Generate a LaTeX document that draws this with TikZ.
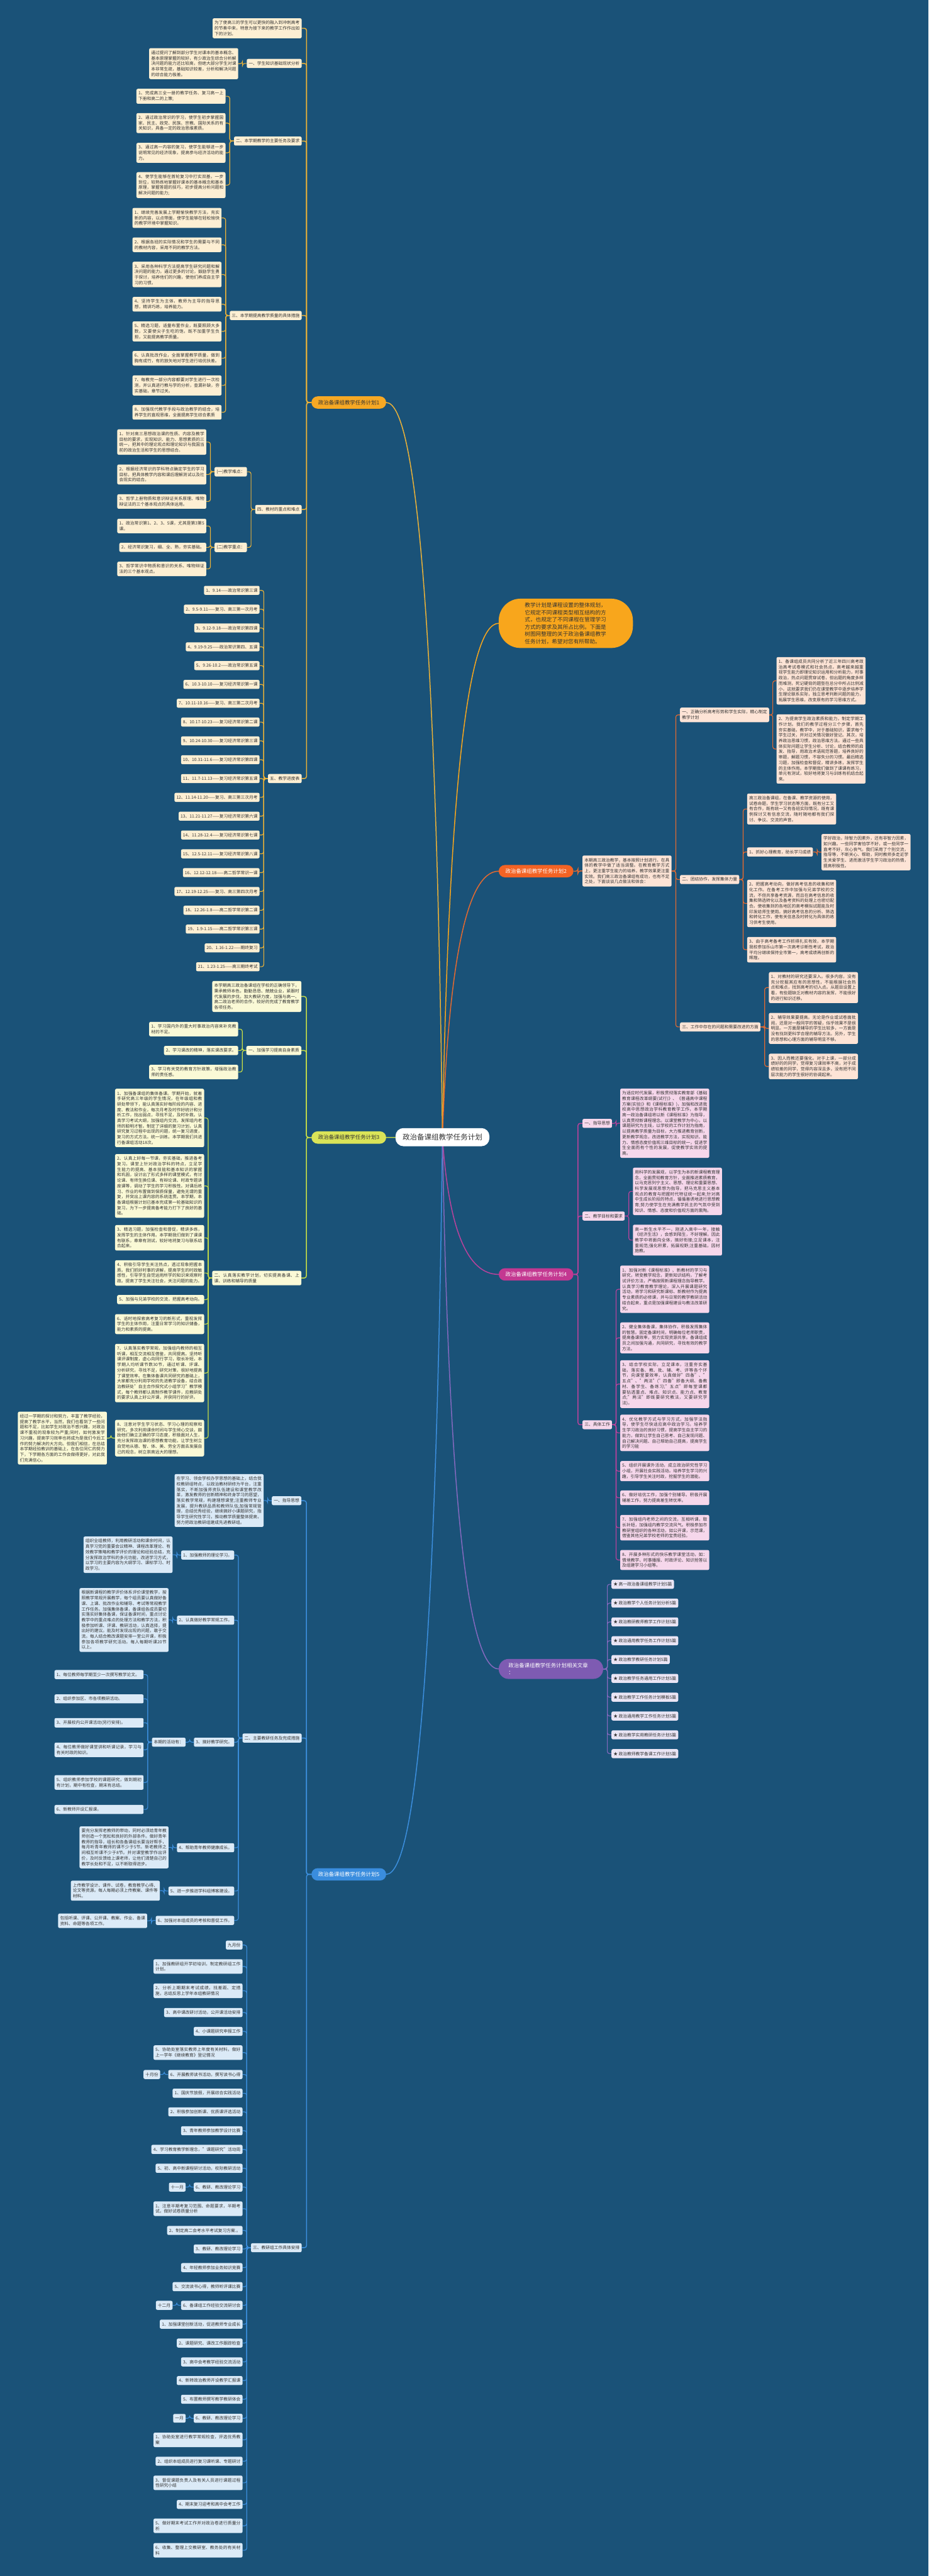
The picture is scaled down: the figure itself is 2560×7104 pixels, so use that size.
\documentclass[tikz,border=0pt]{standalone}
\usepackage{fontspec}
\setmainfont{Noto Sans CJK SC}
\usetikzlibrary{calc}
\XeTeXlinebreaklocale "zh"
\XeTeXlinebreakskip=0pt plus 1pt
\definecolor{bgc}{RGB}{26,82,120}
\definecolor{txt}{RGB}{51,51,51}
\definecolor{k1n}{RGB}{246,168,36}\definecolor{k1l}{RGB}{235,178,56}\definecolor{k1c}{RGB}{253,239,211}
\definecolor{k3n}{RGB}{218,228,88}\definecolor{k3l}{RGB}{200,222,70}\definecolor{k3c}{RGB}{250,249,214}
\definecolor{k5n}{RGB}{58,141,222}\definecolor{k5l}{RGB}{60,143,222}\definecolor{k5c}{RGB}{219,234,247}
\definecolor{k2n}{RGB}{243,99,36}\definecolor{k2l}{RGB}{229,106,48}\definecolor{k2c}{RGB}{253,228,214}
\definecolor{k4n}{RGB}{195,56,145}\definecolor{k4l}{RGB}{186,66,156}\definecolor{k4c}{RGB}{246,215,235}
\definecolor{k6n}{RGB}{126,91,178}\definecolor{k6l}{RGB}{132,105,190}\definecolor{k6c}{RGB}{234,229,245}
\definecolor{ksum}{RGB}{248,166,28}
\definecolor{shd}{RGB}{18,60,92}
\newcommand\myfs{\fontsize{11.7pt}{15.1pt}\selectfont}
\pgfdeclarelayer{back}\pgfdeclarelayer{lines}
\pgfsetlayers{back,lines,main}
\newcommand\lk[3]{\path (#2.west -| #3.east) coordinate (tmpA);
  \draw[#1] (#2.west) -- ($(#2.west)!0.5!(tmpA)$) |- (#3.east);}
\newcommand\rk[3]{\path (#2.east -| #3.west) coordinate (tmpA);
  \draw[#1] (#2.east) -- ($(#2.east)!0.5!(tmpA)$) |- (#3.west);}
\newcommand\mainL[2]{\coordinate (tmpQ) at ($(#2.east -| root.center)+(-25,0)$);
  \draw[#1,line width=2.6pt] (root.center) .. controls ($(root.center)!0.6667!(tmpQ)$) and ($(#2.east)!0.6667!(tmpQ)$) .. (#2.east);}
\newcommand\mainR[2]{\coordinate (tmpQ) at ($(#2.west -| root.center)+(25,0)$);
  \draw[#1,line width=2.6pt] (root.center) .. controls ($(root.center)!0.6667!(tmpQ)$) and ($(#2.west)!0.6667!(tmpQ)$) .. (#2.west);}
\begin{document}
\begin{tikzpicture}[x=1pt,y=-1pt,
  bx/.style={rounded corners=4pt, inner xsep=5.5pt, inner ysep=7pt, text=txt, font=\myfs},
  wd/.style={text width=234.5pt, align=justify},
  f1/.style={bx, fill=k1c}, f3/.style={bx, fill=k3c}, f5/.style={bx, fill=k5c},
  f2/.style={bx, fill=k2c}, f4/.style={bx, fill=k4c}, f6/.style={bx, fill=k6c},
  brn/.style={rounded corners=17pt, minimum width=206pt, minimum height=34pt, inner xsep=10pt, font=\fontsize{14.6pt}{17pt}\selectfont},
  conn/.style={line width=2pt, rounded corners=6pt},
  c1/.style={conn, draw=k1l}, c3/.style={conn, draw=k3l}, c5/.style={conn, draw=k5l},
  c2/.style={conn, draw=k2l}, c4/.style={conn, draw=k4l}, c6/.style={conn, draw=k6l}]
\begin{pgfonlayer}{back}
\fill[bgc] (0,0) rectangle (2560,7104);
\end{pgfonlayer}
\useasboundingbox (0,0) rectangle (2560,7104);

% root
\node[rounded corners=22pt, fill=white, text=txt, minimum width=259pt, minimum height=50pt, font=\fontsize{20pt}{24pt}\selectfont] (root) at (1220,3136) {政治备课组教学任务计划};

% ================= branch 1 =================
\node[brn, fill=k1n, text=txt, anchor=east] (A) at (1065,1110) {政治备课组教学任务计划1};
\node[f1,wd,anchor=east] (a0) at (832,78) {为了使高三的学生可以更快的融入到冲刺高考的节奏中来，特意为接下来的教学工作作出如下的计划。};
\node[f1,anchor=east] (a1) at (832,175) {一、学生知识基础现状分析};
\node[f1,wd,anchor=east] (a1a) at (657,175.5) {通过提问了解到部分学生对课本的基本概念、基本原理掌握的较好，有少政治生综合分析解决问题的能力还比较高，但绝大部分学生对课本非常生疏，基础知识较差，分析和解决问题的综合能力极差。};
\node[f1,anchor=east] (a2) at (832,389) {二、本学期教学的主要任务及要求};
\node[f1,wd,anchor=east] (a2a) at (622,265.5) {1、完成高三全一册的教学任务、复习高一上下册和高二的上策;};
\node[f1,wd,anchor=east] (a2b) at (622,339.5) {2、通过政治常识的学习，使学生初步掌握国家、民主、政党、民族、宗教、国际关系的有关知识，具备一定的政治思维素质。};
\node[f1,wd,anchor=east] (a2c) at (622,421.5) {3、通过高一内容的复习，使学生能够进一步说明常见的经济现象，提高参与经济活动的能力。};
\node[f1,wd,anchor=east] (a2d) at (622,510.5) {4、使学生能够在首轮复习中打实双基，一步到位，较熟练地掌握好课本的基本概念和基本原理，掌握答题的技巧，初步提高分析问题和解决问题的能力;};
\node[f1,anchor=east] (a3) at (832,870) {三、本学期提高教学质量的具体措施};
\node[f1,wd,anchor=east] (a3a) at (611,601) {1、继续完善发展上学期愉快教学方法，充实新的内容，以点带面，使学生能够在轻松愉快的教学环境中掌握知识。};
\node[f1,wd,anchor=east] (a3b) at (611,675) {2、根据各班的实际情况和学生的需要与不同的教材内容，采用不同的教学方法。};
\node[f1,wd,anchor=east] (a3c) at (611,757) {3、采用各种科学方法提高学生研究问题和解决问题的能力。通过更多的讨论，鼓励学生勇于探讨，培养他们的兴趣，使他们养成自主学习的习惯。};
\node[f1,wd,anchor=east] (a3d) at (611,839) {4、坚持学生为主体，教师为主导的指导思想，精讲巧练，培养能力。};
\node[f1,wd,anchor=east] (a3e) at (611,914) {5、精选习题，适量布置作业，既要照顾大多数，又要使尖子生吃的饱，既不加重学生负担，又能提高教学质量。};
\node[f1,wd,anchor=east] (a3f) at (611,988) {6、认真批改作业，全面掌握教学质量，做到胸有成竹，有的放矢地对学生进行培优扶差。};
\node[f1,wd,anchor=east] (a3g) at (611,1063) {7、每教完一部分内容都要对学生进行一次检测，并认真进行教与学的分析，查漏补缺，夯实基础，章节过关。};
\node[f1,wd,anchor=east] (a3h) at (611,1137) {8、加强现代教学手段与政治教学的结合，培养学生的直观思维，全面提高学生综合素质};
\node[f1,anchor=east] (a4) at (832,1405) {四、教材的重点和难点};
\node[f1,anchor=east] (a4a) at (681,1301) {(一)教学难点：};
\node[f1,wd,anchor=east] (a4aa) at (569,1219) {1、针对高三思想政治课的性质、内容及教学目标的要求，实现知识、能力、思想素质的三统一，把其中的理论观点和理论知识与我国当前的政治生活和学生的思想结合。};
\node[f1,wd,anchor=east] (a4ab) at (569,1308.5) {2、根据经济常识的学科特点确定学生的学习目标，把具体教学内容和课后理解测试以及社会现实的结合。};
\node[f1,wd,anchor=east] (a4ac) at (569,1383) {3、哲学上册物质和意识辩证关系原理、唯物辩证法的三个基本观点的具体运用。};
\node[f1,anchor=east] (a4b) at (681,1509.5) {(二)教学重点：};
\node[f1,wd,anchor=east] (a4ba) at (569,1450.5) {1、政治常识第1、2、3、5课，尤其是第3第5课。};
\node[f1,anchor=east] (a4bb) at (569,1509.5) {2、经济常识复习，细、全、熟，夯实基础。};
\node[f1,wd,anchor=east] (a4bc) at (569,1569) {3、哲学常识中物质和意识的关系、唯物辩证法的三个基本观点。};
\node[f1,anchor=east] (a5) at (832,2147) {五、教学进度表};
\foreach \t [count=\i] in {1、9.14——政治常识第三课, 2、9.5-9.11——复习、高三第一次月考, 3、9.12-9.18——政治常识第四课, 4、9.19-9.25——政治常识第四、五课, 5、9.26-10.2——政治常识第五课, 6、10.3-10.10——复习经济常识第一课, 7、10.11-10.16——复习、高三第二次月考, 8、10.17-10.23——复习经济常识第二课, 9、10.24-10.30——复习经济常识第三课, 10、10.31-11.6——复习经济常识第四课, 11、11.7-11.13——复习经济常识第五课, 12、11.14-11.20——复习、高三第三次月考, 13、11.21-11.27——复习经济常识第六课, 14、11.28-12.4——复习经济常识第七课, 15、12.5-12.11——复习经济常识第八课, 16、12.12-12.18——高二哲学常识一课, 17、12.19-12.25——复习、高三第四次月考, 18、12.26-1.8——高二哲学常识第二课, 19、1.9-1.15——高二哲学常识第三课, 20、1.16-1.22——期终复习, 21、1.23-1.25——高三期终考试}
  {\node[f1,anchor=east] (s\i) at (716,{1628+(\i-1)*51.9}) {\t};}

% ================= branch 3 =================
\node[brn, fill=k3n, text=txt, anchor=east] (G) at (1065,3137) {政治备课组教学任务计划3};
\node[f3,wd,anchor=east] (g0) at (831,2748) {本学期高三政治备课组在学校的正确领导下，秉承教师本色，勤勤恳恳、兢兢业业，紧跟时代发展的步伐，加大教研力度，加强与高一、高二政治老师的合作，较好的完成了教育教学各项任务。};
\node[f3,anchor=east] (g1) at (831,2897) {一、加强学习提高自身素质};
\node[f3,wd,anchor=east] (g1a) at (657,2838) {1、学习国内外的重大时事政治内容来补充教材的不足。};
\node[f3,anchor=east] (g1b) at (657,2897) {2、学习课改的精神，落实课改要求。};
\node[f3,wd,anchor=east] (g1c) at (657,2956.5) {3、学习有关党的教育方针政策，增强政治教师的责任感。};
\node[f3,wd,anchor=east] (g2) at (831,3524.5) {二、认真落实教学计划，切实提高备课、上课、训练和辅导的质量};
\node[f3,wd,anchor=east] (g2a) at (563,3083) {1、加强备课组的集体备课。学期开始，就着手研究高三年级的学生情况，在年级组和教研处带领下，能认真落实好每阶段的内容、进度、教法和作业，每次月考及时作好统计和分析工作，找出弱点，寻找不足，及时补救。认真学习考试大纲，加强组内交流，发挥组内老师的聪明才智。制定了详细的复习计划，认真研究复习过程中出现的问题，统一复习进度，复习的方式方法。统一训练。本学期我们共进行备课组活动18次。};
\node[f3,wd,anchor=east] (g2b) at (563,3270.5) {2、认真上好每一节课，夯实基础，推进备考复习。课堂上针对政治学科的特点，立足学生能力的提高、基本技能和基本知识的掌握和巩固，设计出了形式多样的课堂模式，有讨论课、有师生换位课、有辩论课、时政专题讲座课等，调动了学生的学习积极性。对课后练习、作业的布置做到保质保量，避免无谓的重复，并突出上课内容的系统连贯。本学期，本备课组根据计划已基本完成第一轮基础知识的复习，为下一步提高备考能力打下了良好的基础。};
\node[f3,wd,anchor=east] (g2c) at (563,3413.5) {3、精选习题，加强检查和督促，精讲多练，发挥学生的主体作用。本学期我们做到了课课有联系，章章有测试，较好地将复习与联系结合起来。};
\node[f3,wd,anchor=east] (g2d) at (563,3510.5) {4、积极引导学生关注热点，透过现象把握本质。我们抓好时事的讲解，提高学生的时政敏感性，引导学生自觉运用所学的知识来观察时政。提高了学生关注社会，关注问题的能力。};
\node[f3,anchor=east] (g2e) at (563,3584) {5、加强与兄弟学校的交流，把握高考动向。};
\node[f3,wd,anchor=east] (g2f) at (563,3651.5) {6、适时地探索高考复习的新形式，重视发挥学生的主体作用，注重日常学习的知识储备，能力和素质的提高。};
\node[f3,wd,anchor=east] (g2g) at (563,3786.5) {7、认真落实教学常规，加强组内教师的相互听课，相互交流相互借鉴，共同提高。坚持听课评课制度，虚心向同行学习，取长补短，本学期人均听课节数30节，通过听课、评课、分析研究，寻找不足，研究对策，很好地提高了课堂效率。在集体备课共同研究的基础上，大家都充分利用学校的先进教学设备，结合政治教研处"自主合作探究式小组学习"教学模式，每个教师都认真制作教学课件，应教研处的要求认真上好公开课，并获同行的好评。};
\node[f3,wd,anchor=east] (g2h) at (563,3966) {8、注意对学生学习状态、学习心理的观察和研究。多次利用课余时间与学生倾心交谈，鼓励他们确立正确的学习态度，积极面对人生，充分发挥政治课的思想教育功能，让学生树立自觉地从德、智、体、美、劳全方面去发展自己的观念，树立崇高远大的理想。};
\node[f3,wd,anchor=east] (g2h1) at (295,3966) {经过一学期的探讨和努力，丰富了教学经验，提高了教学水平，当然，我们也看到了一些问题和不足，比如学生对政治不感兴趣，对政治课不重视的现象较为严重;同时，如何激发学习兴趣，提高学习效率也将成为是我们今后工作的努力解决的大方向。但我们相信，在总结本学期经验教训的基础上，在各位同仁的努力下，下学期各方面的工作会做得更好，对此我们充满信心。};

% ================= branch 5 =================
\node[brn, fill=k5n, text=white, anchor=east] (B) at (1065,5169) {政治备课组教学任务计划5};
\node[f5,anchor=east] (b1) at (831,4138.5) {一、指导思想};
\node[f5,wd,anchor=east] (b1a) at (727,4138) {在学习、领会学校办学思想的基础上，结合我校教研组特点，以政治教材研修为平台，注重落实，不断加强师资队伍建设和课堂教学改革，激发教师的创新精神和终身学习的愿望，落实教学常规，构建理想课堂;注重教师专业发展，提升教研品质和教师队伍;加强常规管理，总结优秀经验，继续搞好小课题研究，指导学生研究性学习，推动教学质量整体提高，努力把政治教研组建成先进教研组。};
\node[f5,anchor=east] (b2) at (832,4793) {二、主要教研任务及完成措施};
\node[f5,anchor=east] (b2a) at (646,4288.5) {1、加强教师的理论学习。};
\node[f5,wd,anchor=east] (b2a1) at (476,4287.5) {组织全组教师，利用教研活动和课余时间，认真学习党的重要会议精神、课程改革理论、有效教学策略和教学评价的理论和经验总结，充分发挥政治学科的多元功能，改进学习方式，以学习的主要内容为大纲学习、课标学习、时政学习。};
\node[f5,anchor=east] (b2b) at (646,4468) {2、认真做好教学常规工作。};
\node[f5,wd,anchor=east] (b2b1) at (465,4467.5) {根据新课程的教学评价体系评价课堂教学，按照教学常规开展教学，每个组员要认真做好备课、上课、批改作业和辅导、考试等常规教学工作任务。加强集体备课，备课组各成员要切实落实好集体备课，保证备课时间，重点讨论教学中的重点难点的处理方法和教学方法，积极参加听课、评课、教研活动，认真选择，提出好的建议。能及时发现出现的问题，敢于交流。每人结合教改课题安排一堂公开课，积极参加各项教学研究活动。每人每期听课20节以上。};
\node[f5,anchor=east] (b2c) at (646,4804.5) {3、搞好教学研究。};
\node[f5,anchor=east] (b2c1) at (512,4804.5) {本期的活动有：};
\node[f5,wd,anchor=east] (b2c1a) at (396,4618) {1、每位教师每学期至少一次撰写教学论文。};
\node[f5,wd,anchor=east] (b2c1b) at (396,4685) {2、组织参加区、市各项教研活动。};
\node[f5,wd,anchor=east] (b2c1c) at (396,4751) {3、开展校内公开课活动(另行安排)。};
\node[f5,wd,anchor=east] (b2c1d) at (396,4825.5) {4、每位教师做好课堂讲和听课记录，学习与有关时政的知识。};
\node[f5,wd,anchor=east] (b2c1e) at (396,4915.5) {5、组织教师参加学校的课题研究，做到期初有计划，期中有检查，期末有总结。};
\node[f5,wd,anchor=east] (b2c1f) at (396,4990) {6、新教师开设汇报课。};
\node[f5,anchor=east] (b2d) at (646,5095.5) {4、帮助青年教师健康成长。};
\node[f5,wd,anchor=east] (b2d1) at (465,5094.5) {要充分发挥老教师的带动，同时必须给青年教师创造一个宽松和良好的外部条件。做好青年教师的指导，组长和各备课组长要当好帮手，每月听青年教师的课不少于5节。新老教师之间相互听课不少于8节。并对课堂教学作出评价，及时反馈给上课老师，让他们清楚自己的教学长处和不足，以不断取得进步。};
\node[f5,anchor=east] (b2e) at (646,5215) {5、进一步推进学科组博客建设。};
\node[f5,wd,anchor=east] (b2e1) at (441,5214) {上传教学设计、课件、试卷，教育教学心得、论文等资源。每人每期必须上传教案、课件等材料。};
\node[f5,anchor=east] (b2f) at (646,5296) {6、加强对本组成员的考核和督促工作。};
\node[f5,wd,anchor=east] (b2f1) at (406,5297) {包括听课、评课、公开课、教案、作业、备课资料、命题等各项工作。};
\node[f5,anchor=east] (b3) at (832,6198.5) {三、教研组工作具体安排};
\node[f5,anchor=east] (b3a) at (669,5364) {九月份};
\node[f5,wd,anchor=east] (b3b) at (669,5423) {1、加强教研组开学初培训，制定教研组工作计划。};
\node[f5,wd,anchor=east] (b3c) at (669,5490) {2、分析上期期末考试成绩，找差距、定措施，总结反思上学年本组教研情况};
\node[f5,anchor=east] (b3d) at (669,5550) {3、高中课改研讨活动，公开课活动安排};
\node[f5,anchor=east] (b3e) at (669,5602) {4、小课题研究申报工作};
\node[f5,wd,anchor=east] (b3f) at (669,5660.5) {5、协助处室落实教师上年度有关材料，做好上一学年《继续教育》登记情况};
\node[f5,anchor=east] (b3g) at (669,5721) {6、开展教师读书活动，撰写读书心得};
\node[f5,anchor=east] (b3g1) at (442,5721) {十月份};
\node[f5,anchor=east] (b3h) at (669,5772.5) {1、国庆节放假，开展综合实践活动};
\node[f5,anchor=east] (b3i) at (669,5824) {2、积极参加创新课、优质课评选活动};
\node[f5,anchor=east] (b3j) at (669,5876) {3、青年教师参加教学设计比赛};
\node[f5,anchor=east] (b3k) at (669,5927.5) {4、学习教育教学新理念，"课题研究"活动周};
\node[f5,anchor=east] (b3l) at (669,5979.5) {5、初、高中新课程研讨活动，校际教研活动};
\node[f5,anchor=east] (b3m) at (669,6031.5) {6、教研、教改理论学习};
\node[f5,anchor=east] (b3m1) at (512,6031.5) {十一月};
\node[f5,wd,anchor=east] (b3n) at (669,6091) {1、注意半期考复习范围、命题要求，半期考试，做好试卷质量分析};
\node[f5,anchor=east] (b3o) at (669,6151) {2、制定高二会考水平考试复习方案.。};
\node[f5,anchor=east] (b3p) at (669,6202) {3、教研、教改理论学习};
\node[f5,anchor=east] (b3q) at (669,6253.5) {4、年轻教师参加业务知识竞赛};
\node[f5,anchor=east] (b3r) at (669,6306) {5、交流读书心得，教师听评课比赛};
\node[f5,anchor=east] (b3s) at (669,6357.5) {6、备课组工作经验交流研讨会};
\node[f5,anchor=east] (b3s1) at (476,6357.5) {十二月};
\node[f5,anchor=east] (b3t) at (669,6409.5) {1、加强课堂创新活动，促进教师专业成长};
\node[f5,anchor=east] (b3u) at (669,6461.5) {2、课题研究、课改工作跟踪检查};
\node[f5,anchor=east] (b3v) at (669,6513.5) {3、高中会考教学经验交流活动};
\node[f5,anchor=east] (b3w) at (669,6565) {4、新转政治教师开设教学汇报课};
\node[f5,anchor=east] (b3x) at (669,6616.5) {5、布置教师撰写教学教研体会};
\node[f5,anchor=east] (b3y) at (669,6669) {6、教研、教改理论学习};
\node[f5,anchor=east] (b3y1) at (512,6669) {一月};
\node[f5,wd,anchor=east] (b3z) at (669,6728.5) {1、协助处室进行教学常规检查，评选优秀教案};
\node[f5,anchor=east] (b3A) at (669,6787.5) {2、组织本组成员进行复习课听课、专题研讨};
\node[f5,wd,anchor=east] (b3B) at (669,6847) {3、督促课题负责人及有关人员进行课题过程性研究小结};
\node[f5,anchor=east] (b3C) at (669,6906.5) {4、期末复习迎考和高中会考工作};
\node[f5,wd,anchor=east] (b3D) at (669,6965.5) {5、做好期末考试工作并对政治卷进行质量分析};
\node[f5,wd,anchor=east] (b3E) at (669,7033) {6、收集、整理上交教研室、教务处的有关材料};

% ================= summary =================
\node[fill=ksum, text=txt, rounded corners=60pt, minimum width=370pt, minimum height=136pt, text width=226pt, align=left, font=\fontsize{14.9pt}{20pt}\selectfont, anchor=west] (S) at (1375,1719) {教学计划是课程设置的整体规划，它规定不同课程类型相互结构的方式，也规定了不同课程在管理学习方式的要求及其所占比例。下面是树图网整理的关于政治备课组教学任务计划，希望对您有所帮助。};

% ================= branch 2 =================
\node[brn, fill=k2n, text=white, anchor=west] (R) at (1375,2402.5) {政治备课组教学任务计划2};
\node[f2,wd,anchor=west] (r0) at (1606,2402) {本期高三政治教学，基本按照计划进行。在具体的教学中做了适当调整。在教育教学方式上，更注重学生能力的培养，教学效果更注重实效。我们高三政治备课组有成功，也有不足之处，下面谈谈几点做法和体会：};
\node[f2,wd,anchor=west] (rA) at (1875,1971.5) {一、正确分析高考形势和学生实际，精心制定教学计划};
\node[f2,wd,anchor=west] (rA1) at (2141,1877.5) {1、备课组成员共同分析了近三年四川高考政治高考试卷模式和社会热点，高考越来越重视学生能力即理论知识运用和分析能力，时事政治，热点问题贯穿试卷，但出题的角度多样而难测，死记硬背的题型在总分中所占比例减小，这就要求我们仍在课堂教学中逐步培养学生理论联系实际，独立思考判断问题的能力，拓展学生思维，改变原有的学习思维方式。};
\node[f2,wd,anchor=west] (rA2) at (2141,2065.5) {2、为提高学生政治素质和能力，制定学期工作计划。我们的教学过程分三个步骤，首先夯实基础，教学中，对于基础知识，要求每个学生过关，并对过关情况做好登记。其次，培养政治思维习惯，政治思维方法。通过一些具体实际问题让学生分析、讨论，结合教师的启发、指导，用政治术语规范答题，培养良好的审题，解题习惯，不容失分的习惯。最后精选习题，加强检查和督促，精讲多练，发挥学生的主体作用。本学期我们做到了课课有练习，单元有测试，较好地将复习与训练有机结合起来。};
\node[f2,anchor=west] (rB) at (1875,2425.5) {二、团结协作，发挥集体力量};
\node[f2,wd,anchor=west] (rB0) at (2060,2231) {高三政治备课组，在备课、教学资源的使用，试卷命题，学生学习状态等方面，既有分工又有合作，既有统一又有各班实际情况，既有课例探讨又有信息交流，随时随地都有我们探讨、争议、交流的声音。};
\node[f2,anchor=west] (rB1) at (2060,2349.5) {1、抓好心理教育，助长学习成绩};
\node[f2,wd,anchor=west] (rB1a) at (2265,2350) {学好政治，除智力因素外，还有非智力因素，如兴趣。一些同学害怕学不好，或一些同学一直考不好，灰心丧气。我们采用了个别交流，指导等，不断关心、帮助，同时教师多走近学生关爱学生、进而激活学生学习政治的热情，提高积极性。};
\node[f2,wd,anchor=west] (rB2) at (2060,2491.5) {2、把握高考动向，做好高考信息的收集和转化工作。在备考工作中加强与兄弟学校的交流，不但共享备考资源，而且在高考信息的收集和筛选转化以及备考资料的处理上也密切配合。使收集到的各地区的高考模拟试题能及时印发给师生使用。搞好高考信息的分析、筛选和转化工作，使有关信息及时转化为具体的练习供考生使用。};
\node[f2,wd,anchor=west] (rB3) at (2060,2619) {3、由于高考备考工作抓得扎实有效，本学期我校参加乐山市第一次高考诊断性考试，政治平均分继续保持全市第一，高考成绩再创新的辉煌。};
\node[f2,anchor=west] (rC) at (1875,2832) {三、工作中存在的问题和需要改进的方面};
\node[f2,wd,anchor=west] (rC1) at (2120,2723.5) {1、对教材的研究还要深入。很多内容，没有充分挖掘其应有的思想性，不能根据社会热点和难点，找到高考的切入点。从题目设置上看，有些题缺乏对教材内容的发挥，不能很好的进行知识迁移。};
\node[f2,wd,anchor=west] (rC2) at (2120,2836) {2、辅导效果要提高。无论是作业或试卷面批阅，还是对一般同学的答疑，似乎效果不是很明显。一方面是辅导的学生比较多，一方面是没有找到更科学合理的辅导方法。另外，学生的思想和心理方面的辅导明显不够。};
\node[f2,wd,anchor=west] (rC3) at (2120,2941) {3、因人而教还要强化。对于上课，一部分成绩好的的同学，觉得复习课效率不高，对于成绩较差的同学，觉得内容深且多，没有把不同层次能力的学生很好的协调起来。};

% ================= branch 4 =================
\node[brn, fill=k4n, text=white, anchor=west] (M) at (1375,3514.5) {政治备课组教学任务计划4};
\node[f4,anchor=west] (mD) at (1606,3098) {一、指导思想};
\node[f4,wd,anchor=west] (mD1) at (1710,3097.5) {为适应时代发展，积极贯彻落实教育部《基础教育课程改革纲要(试行)》、《普通高中课程方案(实验)》和《课程标准》)，加强和改进我校高中思想政治学科教育教学工作，本学期高一政治备课组将以新《课程标准》为指导，认真贯彻新课程理念。以课堂教学为中心，以课题研究为主线，以学校的工作计划为指南，以提高教学质量为目标，大力推进教育创新，更新教学观念，改进教学方法，实现知识、能力、情感态度价值观三维目标的统一，促进学生全面而有个性的发展，促使教学实效的提高。};
\node[f4,anchor=west] (mE) at (1606,3353.5) {二、教学目标和要求};
\node[f4,wd,anchor=west] (mE1) at (1745,3285.5) {用科学的发展观，以学生为本的新课程教育理念，全面贯彻教育方针，全面推进素质教育，以马克思列宁主义、思想、理论和重要思想、科学发展观思想为指导，把马克思主义基本观点的教育与把握时代特征统一起来;针对高中生成长阶段的特点，循循善诱地进行思想教育;努力使学生在充满教学民主的气氛中受到知识、情感、态度和价值观方面的熏陶。};
\node[f4,wd,anchor=west] (mE2) at (1745,3420) {高一新生水平不一，刚进入高中一年，接触《经济生活》，会感到陌生，不好理解。因此教学中将面向全体，搞好衔接;立足课本，注重规范;强化积累，拓展视野;注重基础，因材施教。};
\node[f4,anchor=west] (mF) at (1606,3929) {三、具体工作};
\node[f4,wd,anchor=west] (mF1) at (1710,3555.5) {1、加强对新《课程标准》、新教材的学习与研究，转变教学观念，更新知识结构，了解考试评价方法，严格按照新课程理念指导教学。认真学习教育教学理论，深入开展课题研究活动，将学习和研究新课标、新教材作为提高专业素质的必修课，并与日常的教学教研活动结合起来，重点是加强课程建设与教法改革研究。};
\node[f4,wd,anchor=west] (mF2) at (1710,3689.5) {2、健全集体备课，集体协作，积极发挥集体的智慧。固定备课时间，明确每位老师职责，提高备课效率，努力实现资源共享。备课组成员之间加强沟通，共同研究，寻找有效的教学方法。};
\node[f4,wd,anchor=west] (mF3) at (1710,3817) {3、结合学校实际，立足课本，注重夯实基础，落实备、教、批、辅、考、评等各个环节，向课堂要效率，认真做好"四备"、"五点"、"两法"("四备"即备大纲、备教材、备学生、备练习;"五点"即每堂课都要钻透重点、难点、知识点、能力点、教育点;"两法"即既要研究教法，又要研究学法)。};
\node[f4,wd,anchor=west] (mF4) at (1710,3951.5) {4、优化教学方式与学习方式，加强学法指导，使学生尽快适应高中政治学习。培养学生学习政治的良好习惯，提高学生自主学习的能力，做到让学生自己思考、自己发现问题、自己解决问题、自己帮助自己提高，提高学生的学习能};
\node[f4,wd,anchor=west] (mF5) at (1710,4057) {5、组织开展课外活动，成立政治研究性学习小组，开展社会实践活动。培养学生学习的兴趣，引导学生关注时政，挖掘学生的潜能。};
\node[f4,wd,anchor=west] (mF6) at (1710,4130.5) {6、做好培优工作，加强个别辅导。积极开展辅差工作，努力提高差生转优率。};
\node[f4,wd,anchor=west] (mF7) at (1710,4213) {7、加强组内老师之间的交流，互相听课，取长补短，加强组内教学交流风气。积极参加市教研室组织的各种活动，如公开课，示范课，借鉴其他兄弟学校老师的宝贵经验。};
\node[f4,wd,anchor=west] (mF8) at (1710,4302) {8、开展多种形式的快乐教学课堂活动，如：情境教学、时事播报、时政评论、知识抢答以及组建学习小组等。};

% ================= related =================
\node[fill=k6n, text=white, rounded corners=27pt, minimum width=288pt, minimum height=55pt, text width=234pt, inner xsep=27pt, align=left, font=\fontsize{14.6pt}{19pt}\selectfont, anchor=west] (P) at (1375,4602.5) {政治备课组教学任务计划相关文章\\：};
\foreach \t [count=\i] in {高一政治备课组教学计划5篇, 政治教学个人任务计划分析5篇, 政治教研教师教学工作计划5篇, 政治通用教学任务工作计划5篇, 政治教学教研任务计划5篇, 政治教学任务通用工作计划5篇, 政治教学工作任务计划模板5篇, 政治通用教学工作任务计划5篇, 政治教学实用教研任务计划5篇, 政治教师教学备课工作计划5篇}
  {\node[f6,anchor=west] (p\i) at (1686,{4369+(\i-1)*51.9}) {★ \t};}

% ================= connectors =================
\begin{pgfonlayer}{lines}
\mainL{k1l}{A}\mainL{k3l}{G}\mainL{k5l}{B}
\mainR{ksum}{S}\mainR{k2l}{R}\mainR{k4l}{M}\mainR{k6l}{P}
\foreach \c in {a0,a1,a2,a3,a4,a5} {\lk{c1,line width=2.5pt}{A}{\c}}
\lk{c1}{a1}{a1a}
\foreach \c in {a2a,a2b,a2c,a2d} {\lk{c1}{a2}{\c}}
\foreach \c in {a3a,a3b,a3c,a3d,a3e,a3f,a3g,a3h} {\lk{c1}{a3}{\c}}
\lk{c1}{a4}{a4a}\lk{c1}{a4}{a4b}
\foreach \c in {a4aa,a4ab,a4ac} {\lk{c1}{a4a}{\c}}
\foreach \c in {a4ba,a4bb,a4bc} {\lk{c1}{a4b}{\c}}
\foreach \i in {1,...,21} {\lk{c1}{a5}{s\i}}
\foreach \c in {g0,g1,g2} {\lk{c3,line width=2.5pt}{G}{\c}}
\foreach \c in {g1a,g1b,g1c} {\lk{c3}{g1}{\c}}
\foreach \c in {g2a,g2b,g2c,g2d,g2e,g2f,g2g,g2h} {\lk{c3}{g2}{\c}}
\lk{c3}{g2h}{g2h1}
\foreach \c in {b1,b2,b3} {\lk{c5,line width=2.5pt}{B}{\c}}
\lk{c5}{b1}{b1a}
\foreach \c in {b2a,b2b,b2c,b2d,b2e,b2f} {\lk{c5}{b2}{\c}}
\lk{c5}{b2a}{b2a1}\lk{c5}{b2b}{b2b1}\lk{c5}{b2c}{b2c1}\lk{c5}{b2d}{b2d1}\lk{c5}{b2e}{b2e1}\lk{c5}{b2f}{b2f1}
\foreach \c in {b2c1a,b2c1b,b2c1c,b2c1d,b2c1e,b2c1f} {\lk{c5}{b2c1}{\c}}
\foreach \c in {b3a,b3b,b3c,b3d,b3e,b3f,b3g,b3h,b3i,b3j,b3k,b3l,b3m,b3n,b3o,b3p,b3q,b3r,b3s,b3t,b3u,b3v,b3w,b3x,b3y,b3z,b3A,b3B,b3C,b3D,b3E} {\lk{c5}{b3}{\c}}
\lk{c5}{b3g}{b3g1}\lk{c5}{b3m}{b3m1}\lk{c5}{b3s}{b3s1}\lk{c5}{b3y}{b3y1}
\rk{c2,line width=2.5pt}{R}{r0}
\foreach \c in {rA,rB,rC} {\rk{c2}{r0}{\c}}
\rk{c2}{rA}{rA1}\rk{c2}{rA}{rA2}
\foreach \c in {rB0,rB1,rB2,rB3} {\rk{c2}{rB}{\c}}
\rk{c2}{rB1}{rB1a}
\foreach \c in {rC1,rC2,rC3} {\rk{c2}{rC}{\c}}
\foreach \c in {mD,mE,mF} {\rk{c4,line width=2.5pt}{M}{\c}}
\rk{c4}{mD}{mD1}\rk{c4}{mE}{mE1}\rk{c4}{mE}{mE2}
\foreach \c in {mF1,mF2,mF3,mF4,mF5,mF6,mF7,mF8} {\rk{c4}{mF}{\c}}
\foreach \i in {1,...,10} {\rk{c6}{P}{p\i}}
\end{pgfonlayer}
\end{tikzpicture}
\end{document}
